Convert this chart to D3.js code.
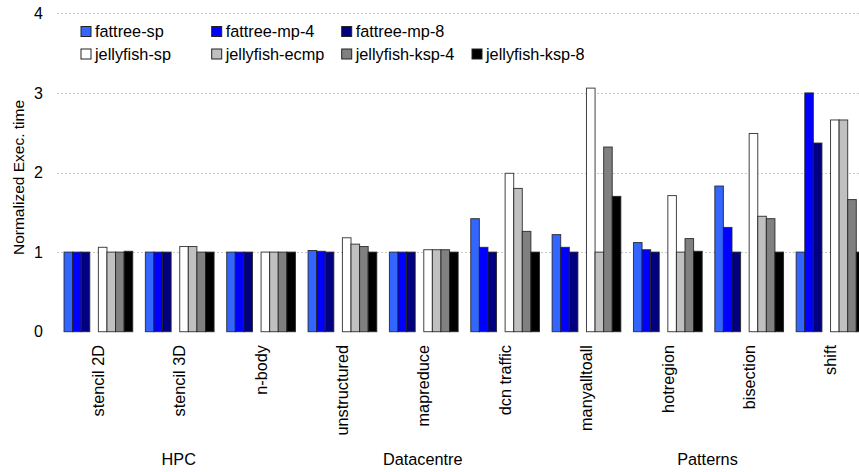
<!DOCTYPE html>
<html>
<head>
<meta charset="utf-8">
<script src="https://cdn.jsdelivr.net/npm/d3@7"></script>
<style>
  html, body { margin: 0; padding: 0; background: #fff; overflow: hidden; }
  svg { display: block; font-family: "Liberation Sans", Arial, sans-serif; }
</style>
</head>
<body>
<svg id="chart" width="859" height="472"></svg>
<script>
const categories = ["stencil 2D", "stencil 3D", "n-body", "unstructured", "mapreduce", "dcn traffic", "manyalltoall", "hotregion", "bisection", "shift"];
const groups = [
  { name: "HPC", first: "stencil 2D", last: "n-body" },
  { name: "Datacentre", first: "unstructured", last: "dcn traffic" },
  { name: "Patterns", first: "manyalltoall", last: "shift" }
];
const seriesNames = ["fattree-sp", "fattree-mp-4", "fattree-mp-8", "jellyfish-sp", "jellyfish-ecmp", "jellyfish-ksp-4", "jellyfish-ksp-8"];
const seriesColors = ["#3366ff", "#0000ff", "#000080", "#ffffff", "#c0c0c0", "#808080", "#000000"];
const seriesSlots = [0, 1, 2, 4, 5, 6, 7];

const fattreeSp   = [1.00, 1.00, 1.00, 1.02, 1.00, 1.42, 1.22, 1.12, 1.83, 1.00];
const fattreeMp4  = [1.00, 1.00, 1.00, 1.01, 1.00, 1.06, 1.06, 1.03, 1.31, 3.00];
const fattreeMp8  = [1.00, 1.00, 1.00, 1.00, 1.00, 1.00, 1.00, 1.00, 1.00, 2.37];
const jellySp     = [1.06, 1.07, 1.00, 1.18, 1.03, 1.99, 3.06, 1.71, 2.49, 2.66];
const jellyEcmp   = [1.00, 1.07, 1.00, 1.10, 1.03, 1.80, 1.00, 1.00, 1.45, 2.66];
const jellyKsp4   = [1.00, 1.00, 1.00, 1.07, 1.03, 1.26, 2.32, 1.17, 1.42, 1.66];
const jellyKsp8   = [1.01, 1.00, 1.00, 1.00, 1.00, 1.00, 1.70, 1.01, 1.00, 1.00];
const seriesValues = [fattreeSp, fattreeMp4, fattreeMp8, jellySp, jellyEcmp, jellyKsp4, jellyKsp8];

const yTicks = [0, 1, 2, 3, 4];
const yTitle = "Normalized Exec. time";

const svg = d3.select("#chart");
const W = 859;

const x0 = d3.scaleBand().domain(categories).range([57.7, 871.2]).paddingInner(0).paddingOuter(0);
const x1 = d3.scaleBand().domain(d3.range(8)).range([0, x0.bandwidth()]).paddingInner(0).paddingOuter(0.735);
const y = d3.scaleLinear().domain([0, 4]).range([331.7, 13.3]);

// gridlines
svg.append("g").selectAll("line").data(yTicks.filter(d => d > 0)).join("line")
  .attr("x1", 57).attr("x2", W)
  .attr("y1", d => Math.round(y(d)) + 0.5).attr("y2", d => Math.round(y(d)) + 0.5)
  .attr("stroke", "#c8c8c8").attr("stroke-width", 1).attr("stroke-dasharray", "2,2");

// y tick labels
svg.append("g").selectAll("text").data(yTicks).join("text")
  .attr("x", 43).attr("y", d => y(d)).attr("dy", "0.35em")
  .attr("text-anchor", "end").attr("font-size", 16).attr("fill", "#000")
  .text(d => d);

// y title
svg.append("text")
  .attr("transform", `translate(18.5,${(y(0) + y(4)) / 2 + 5}) rotate(-90)`)
  .attr("text-anchor", "middle").attr("dy", "0.35em")
  .attr("font-size", 15.5).attr("fill", "#000").text(yTitle);

// bars
const barData = [];
seriesNames.forEach((s, si) => {
  categories.forEach((c, ci) => {
    barData.push({ cat: c, series: si, value: seriesValues[si][ci] });
  });
});
svg.append("g").selectAll("rect").data(barData).join("rect")
  .attr("x", d => x0(d.cat) + x1(seriesSlots[d.series]))
  .attr("y", d => y(d.value))
  .attr("width", x1.bandwidth())
  .attr("height", d => y(0) - y(d.value))
  .attr("fill", d => seriesColors[d.series])
  .attr("stroke", "#222").attr("stroke-opacity", 0.85).attr("stroke-width", 1);

// category labels
svg.append("g").selectAll("text").data(categories).join("text")
  .attr("transform", d => `translate(${x0(d) + x1(4)},345) rotate(-90)`)
  .attr("text-anchor", "end").attr("dy", "0.35em")
  .attr("font-size", 16.3).attr("fill", "#000").text(d => d);

// group labels
svg.append("g").selectAll("text").data(groups).join("text")
  .attr("x", d => (x0(d.first) + x0(d.last) + x0.bandwidth()) / 2 - 1)
  .attr("y", 465)
  .attr("text-anchor", "middle").attr("font-size", 16.3).attr("fill", "#000")
  .text(d => d.name);

// legend
const legCols = [81, 211.7, 341.7, 472];
const legRows = [26.5, 49];
const legend = svg.append("g").selectAll("g").data(seriesNames).join("g")
  .attr("transform", (d, i) => {
    const row = i < 3 ? 0 : 1;
    const col = i < 3 ? i : i - 3;
    return `translate(${legCols[col]},${legRows[row]})`;
  });
legend.append("rect").attr("width", 10).attr("height", 10)
  .attr("fill", (d, i) => seriesColors[i]).attr("stroke", "#222").attr("stroke-width", 1);
legend.append("text").attr("x", 14).attr("y", 5).attr("dy", "0.36em")
  .attr("font-size", 16.3).attr("fill", "#000").text(d => d);
</script>
</body>
</html>
